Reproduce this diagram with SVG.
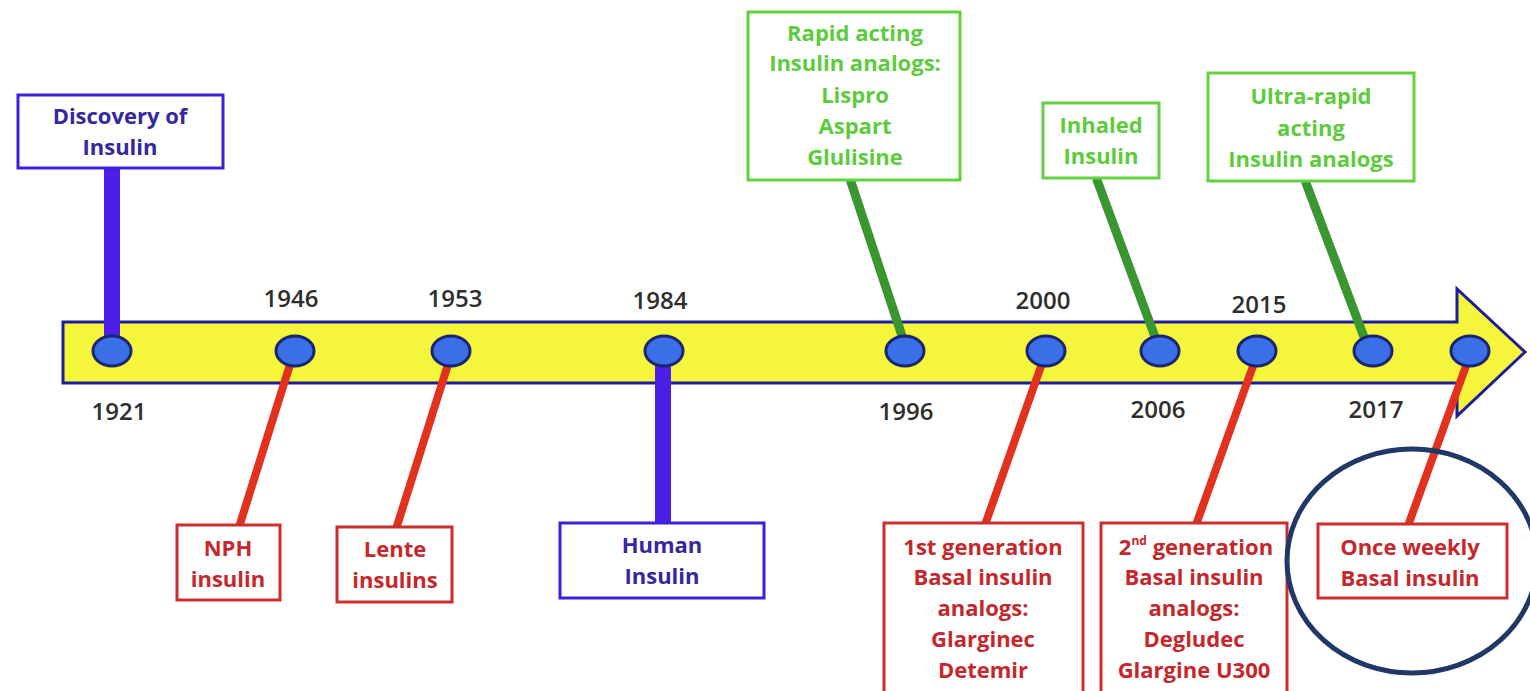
<svg xmlns="http://www.w3.org/2000/svg" width="1530" height="691" viewBox="0 0 1530 691">
  <style>
    text { font-family: "Open Sans", "Liberation Sans", sans-serif; font-weight: 700; font-size: 22px; text-anchor: middle; }
    .year { fill: #2e2e2e; font-weight: 600; font-size: 24px; }
    .box { fill: #fff; stroke-width: 3; }
    .bb { stroke: #3a22d8; }
    .rb { stroke: #cc2e2e; }
    .gb { stroke: #62d243; }
    .bt { fill: #35279e; }
    .rt { fill: #c5282c; }
    .gt { fill: #5ccc3c; }
    .dot { fill: #3a6fe8; stroke: #1a2470; stroke-width: 3; }
    .cb { stroke: #4b1fe8; stroke-width: 16; }
    .cr { stroke: #e2321f; stroke-width: 8; stroke-linecap: round; }
    .cg { stroke: #3a9630; stroke-width: 9; stroke-linecap: round; }
  </style>

  <rect width="1530" height="691" fill="#fff"/>

  <!-- timeline arrow -->
  <g id="timeline">
    <path d="M63,322 H1457 V289 L1525,352 L1457,416 V383 H63 Z" fill="#f5f53c" stroke="#1c1c9c" stroke-width="3" stroke-linejoin="miter"/>
    <text class="year" x="119" y="420">1921</text>
    <text class="year" x="291" y="307">1946</text>
    <text class="year" x="455" y="307">1953</text>
    <text class="year" x="660" y="309">1984</text>
    <text class="year" x="906" y="420">1996</text>
    <text class="year" x="1043" y="309">2000</text>
    <text class="year" x="1158" y="418">2006</text>
    <text class="year" x="1259" y="313">2015</text>
    <text class="year" x="1376" y="418">2017</text>
  </g>

  <!-- connectors -->
  <g id="connectors">
    <line class="cb" x1="112" y1="168" x2="112" y2="345"/>
    <line class="cr" x1="293" y1="355" x2="240" y2="524"/>
    <line class="cr" x1="451" y1="355" x2="397" y2="526"/>
    <line class="cb" x1="663" y1="350" x2="663" y2="523"/>
    <line class="cg" x1="851" y1="182" x2="905" y2="345"/>
    <line class="cr" x1="1045" y1="355" x2="986" y2="522"/>
    <line class="cg" x1="1097" y1="180" x2="1158" y2="345"/>
    <line class="cr" x1="1257" y1="355" x2="1197" y2="522"/>
    <line class="cg" x1="1306" y1="183" x2="1367" y2="345"/>
    <line class="cr" x1="1470" y1="355" x2="1409" y2="523"/>
  </g>

  <!-- year markers on the arrow -->
  <g id="markers">
    <ellipse class="dot" cx="112" cy="351" rx="19" ry="15"/>
    <ellipse class="dot" cx="295" cy="351" rx="19" ry="15"/>
    <ellipse class="dot" cx="451" cy="351" rx="19" ry="15"/>
    <ellipse class="dot" cx="664" cy="351" rx="19" ry="15"/>
    <ellipse class="dot" cx="905" cy="351" rx="19" ry="15"/>
    <ellipse class="dot" cx="1046" cy="351" rx="19" ry="15"/>
    <ellipse class="dot" cx="1160" cy="351" rx="19" ry="15"/>
    <ellipse class="dot" cx="1257" cy="351" rx="19" ry="15"/>
    <ellipse class="dot" cx="1373" cy="351" rx="19" ry="15"/>
    <ellipse class="dot" cx="1470" cy="351" rx="19" ry="15"/>
  </g>

  <g id="discovery">
    <rect class="box bb" x="18" y="95" width="205" height="73"/>
    <text class="bt" x="120" y="124">Discovery of</text>
    <text class="bt" x="120" y="155">Insulin</text>
  </g>

  <g id="nph">
    <rect class="box rb" x="177" y="525" width="103" height="75"/>
    <text class="rt" x="228" y="556">NPH</text>
    <text class="rt" x="228" y="587">insulin</text>
  </g>

  <g id="lente">
    <rect class="box rb" x="337" y="527" width="115" height="75"/>
    <text class="rt" x="395" y="557">Lente</text>
    <text class="rt" x="395" y="588">insulins</text>
  </g>

  <g id="human">
    <rect class="box bb" x="560" y="523" width="204" height="75"/>
    <text class="bt" x="662" y="553">Human</text>
    <text class="bt" x="662" y="584">Insulin</text>
  </g>

  <g id="rapid">
    <rect class="box gb" x="748" y="12" width="212" height="168"/>
    <text class="gt" x="855" y="41">Rapid acting</text>
    <text class="gt" x="855" y="71">Insulin analogs:</text>
    <text class="gt" x="855" y="103">Lispro</text>
    <text class="gt" x="855" y="134">Aspart</text>
    <text class="gt" x="855" y="165">Glulisine</text>
  </g>

  <g id="inhaled">
    <rect class="box gb" x="1043" y="103" width="116" height="75"/>
    <text class="gt" x="1101" y="133">Inhaled</text>
    <text class="gt" x="1101" y="164">Insulin</text>
  </g>

  <g id="ultra">
    <rect class="box gb" x="1208" y="73" width="206" height="108"/>
    <text class="gt" x="1311" y="104">Ultra-rapid</text>
    <text class="gt" x="1311" y="136">acting</text>
    <text class="gt" x="1311" y="167">Insulin analogs</text>
  </g>

  <g id="basal-gen1">
    <rect class="box rb" x="884" y="523" width="199" height="170"/>
    <text class="rt" x="983" y="555">1st generation</text>
    <text class="rt" x="983" y="585">Basal insulin</text>
    <text class="rt" x="983" y="616">analogs:</text>
    <text class="rt" x="983" y="647">Glarginec</text>
    <text class="rt" x="983" y="678">Detemir</text>
  </g>

  <g id="basal-gen2">
    <rect class="box rb" x="1101" y="523" width="186" height="170"/>
    <text class="rt" x="1196" y="555">2<tspan font-size="12" dy="-10">nd</tspan><tspan dy="10"> generation</tspan></text>
    <text class="rt" x="1194" y="585">Basal insulin</text>
    <text class="rt" x="1194" y="616">analogs:</text>
    <text class="rt" x="1194" y="647">Degludec</text>
    <text class="rt" x="1194" y="678">Glargine U300</text>
  </g>

  <g id="weekly">
    <rect class="box rb" x="1318" y="524" width="189" height="74"/>
    <text class="rt" x="1410" y="555">Once weekly</text>
    <text class="rt" x="1410" y="586">Basal insulin</text>
  </g>

  <!-- highlight ring -->
  <ellipse id="highlight" cx="1412" cy="561" rx="125" ry="112" fill="none" stroke="#1f3868" stroke-width="5"/>
</svg>
